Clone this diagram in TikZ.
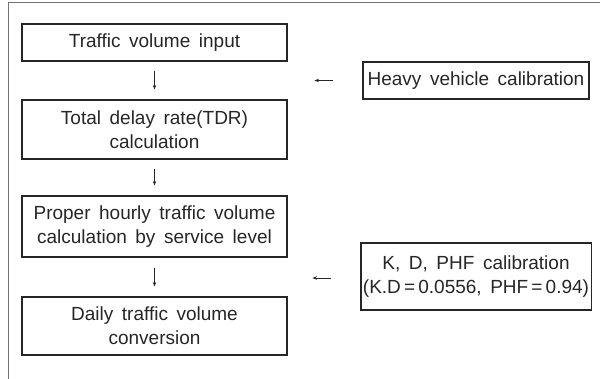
\documentclass[tikz,border=0pt]{standalone}
\usepackage{fontspec}
\setmainfont{Liberation Sans}
\usetikzlibrary{arrows.meta}
\begin{document}
\begin{tikzpicture}[x=1pt,y=-1pt,
  txt/.style={align=center,font={\fontsize{19}{24}\selectfont\spaceskip=0.45em\relax},text=black!85},
  box/.style={txt,draw=black!85,line width=1.1pt,minimum width=265pt,inner sep=2pt},
  sidebox/.style={txt,draw=black!85,line width=1.1pt,minimum width=226pt,inner sep=2pt},
  arr/.style={draw=black!85,line width=0.8pt,-{Stealth[length=4.5pt,width=3.5pt]}}]
\useasboundingbox (0,0) rectangle (600,379);
\draw[black!55,line width=1pt] (8.5,379) -- (8.5,3) -- (600,3);
\node[box,minimum height=37pt] (b1) at (154.5,42.5) {Traffic volume input};
\node[box,minimum height=59pt] (b2) at (154.5,129.5) {Total delay rate(TDR)\\calculation};
\node[box,minimum height=61pt] (b3) at (154.5,226.5) {Proper hourly traffic volume\\calculation by service level};
\node[box,minimum height=58pt] (b4) at (154.5,326) {Daily traffic volume\\conversion};
\node[sidebox,minimum height=37pt] (hv) at (476,80.5) {Heavy vehicle calibration};
\node[sidebox,minimum height=67pt] (kd) at (476,276.5) {K, D, PHF calibration\\(K.D\,=\,0.0556, PHF\,=\,0.94)};
\draw[arr,shorten <=9pt,shorten >=10pt] (b1.south) -- (b2.north);
\draw[arr,shorten <=9pt,shorten >=10pt] (b2.south) -- (b3.north);
\draw[arr,shorten <=10pt,shorten >=10pt] (b3.south) -- (b4.north);
\draw[arr] ([xshift=-29pt]hv.west) -- ([xshift=-48pt]hv.west);
\draw[arr] ([xshift=-29pt,yshift=-1.5pt]kd.west) -- ([xshift=-48pt,yshift=-1.5pt]kd.west);
\end{tikzpicture}
\end{document}
